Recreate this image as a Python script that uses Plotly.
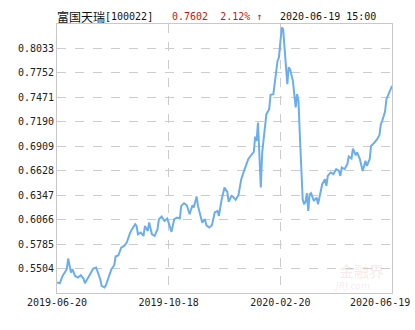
import plotly.graph_objects as go

# trading-day index and net value
days = [0, 2, 4, 5, 7, 8, 9, 10, 11, 13, 15, 17, 19, 20, 23, 26, 28, 29, 31, 32, 34, 35, 37, 39,
        41, 42, 44, 46, 48, 50, 52, 53, 56, 57, 58, 60, 62, 63, 65, 66, 68, 70, 72, 73, 75, 77,
        79, 81, 82, 84, 86, 88, 89, 91, 93, 95, 97, 98, 100, 101, 104, 106, 107, 109, 111, 113,
        115, 116, 118, 120, 122, 123, 125, 126, 128, 130, 131, 132, 134, 135, 137, 139, 141, 142,
        143, 144, 145, 146, 147, 149, 150, 152, 153, 155, 157, 158, 159, 160, 161, 162, 164, 165,
        166, 167, 169, 170, 171, 172, 173, 174, 175, 176, 177, 178, 179, 180, 181, 182, 184, 186,
        187, 188, 190, 192, 193, 194, 196, 198, 200, 202, 203, 204, 206, 208, 209, 211, 212, 214,
        215, 217, 219, 221, 222, 224, 225, 227, 229, 231, 232, 233, 235, 236, 237, 240]
values = [0.5343, 0.5335, 0.5419, 0.5450, 0.5496, 0.5619, 0.5554, 0.5458, 0.5496, 0.5419, 0.5401,
          0.5427, 0.5389, 0.5335, 0.5419, 0.5504, 0.5516, 0.5477, 0.5381, 0.5304, 0.5286, 0.5312,
          0.5419, 0.5496, 0.5542, 0.5642, 0.5657, 0.5745, 0.5764, 0.5803, 0.5898, 0.5936, 0.6013,
          0.5994, 0.5898, 0.5918, 0.5879, 0.5994, 0.5936, 0.6033, 0.5898, 0.5879, 0.5956, 0.6071,
          0.6102, 0.6051, 0.6079, 0.5975, 0.5925, 0.6071, 0.6090, 0.6079, 0.6224, 0.6255, 0.6231,
          0.6128, 0.6231, 0.6205, 0.6332, 0.6224, 0.6033, 0.6071, 0.6002, 0.5975, 0.6002, 0.6148,
          0.6166, 0.6109, 0.6301, 0.6435, 0.6385, 0.6270, 0.6339, 0.6332, 0.6293, 0.6347, 0.6462,
          0.6531, 0.6626, 0.6665, 0.6760, 0.6806, 0.6844, 0.7021, 0.6971, 0.7182, 0.6875, 0.6435,
          0.6838, 0.7143, 0.7278, 0.7335, 0.7500, 0.7508, 0.7795, 0.7890, 0.7930, 0.8140, 0.8274,
          0.8255, 0.7795, 0.7623, 0.7815, 0.7795, 0.7661, 0.7534, 0.7355, 0.7508, 0.7431, 0.7028,
          0.6608, 0.6301, 0.6243, 0.6270, 0.6370, 0.6166, 0.6358, 0.6370, 0.6281, 0.6320, 0.6243,
          0.6320, 0.6473, 0.6531, 0.6454, 0.6569, 0.6608, 0.6588, 0.6646, 0.6626, 0.6569, 0.6665,
          0.6646, 0.6703, 0.6792, 0.6769, 0.6883, 0.6806, 0.6838, 0.6760, 0.6626, 0.6741, 0.6683,
          0.6760, 0.6913, 0.6944, 0.6982, 0.7036, 0.7163, 0.7201, 0.7304, 0.7450, 0.7488, 0.7602]

x_tick_pos = [0, 80, 160, 240]
x_tick_labels = ["2019-06-20", "2019-10-18", "2020-02-20", "2020-06-19"]
y_ticks = [0.5504, 0.5785, 0.6066, 0.6347, 0.6628, 0.6909, 0.7190, 0.7471, 0.7752, 0.8033]
y_tick_labels = ["%.4f" % v for v in y_ticks]

fund_name = "富国天瑞"
fund_code = "[100022]"
last_info = "0.7602  2.12% ↑"
time_info = "2020-06-19 15:00"

mono = "DejaVu Sans Mono, Liberation Mono, monospace"
cjk = "Noto Sans CJK SC"

fig = go.Figure()
fig.add_trace(go.Scatter(x=days, y=values, mode="lines",
                         line=dict(color="#6aaef0", width=2), hoverinfo="skip"))

ML, MR, MT, MB = 57, 23, 24, 37

fig.update_layout(
    width=415, height=330,
    margin=dict(l=ML, r=MR, t=MT, b=MB),
    paper_bgcolor="white", plot_bgcolor="white",
    showlegend=False,
    xaxis=dict(range=[0, 240], tickvals=x_tick_pos[:-1], ticktext=x_tick_labels[:-1],
               showgrid=True, gridcolor="#cccccc", griddash="dash", gridwidth=1,
               showline=True, linecolor="#c8c8c8", linewidth=1, mirror=True,
               ticks="", zeroline=False,
               tickfont=dict(family=mono, size=10, color="#222222")),
    yaxis=dict(range=[0.5223, 0.8314], tickvals=y_ticks, ticktext=y_tick_labels,
               showgrid=True, gridcolor="#cccccc", griddash="dash", gridwidth=1,
               showline=True, linecolor="#c8c8c8", linewidth=1, mirror=True,
               ticks="", zeroline=False,
               tickfont=dict(family=mono, size=10, color="#222222")),
)

# last x label, pushed inside the page like the original
fig.add_annotation(text=x_tick_labels[-1], xref="x", yref="paper", x=x_tick_pos[-1], y=0,
                   xanchor="right", yanchor="top", xshift=20, yshift=-2,
                   showarrow=False, font=dict(family=mono, size=10, color="#222222"))

def top_text(text, px, family, size, color):
    fig.add_annotation(text=text, xref="paper", yref="paper", x=0, y=1,
                       xanchor="left", yanchor="middle", xshift=px - ML, yshift=MT - 16,
                       showarrow=False, font=dict(family=family, size=size, color=color))

top_text(fund_name, 55, cjk, 12, "#111111")
top_text(fund_code, 103, mono, 10, "#111111")
top_text(last_info, 170, mono, 10, "#cc1111")
top_text(time_info, 278, mono, 10, "#111111")

# faint watermark
fig.add_annotation(text="金融界", xref="paper", yref="paper", x=1, y=0,
                   xanchor="right", yanchor="bottom", xshift=-6, yshift=10,
                   showarrow=False, font=dict(family=cjk, size=15, color="rgba(220,120,120,0.18)"))
fig.add_annotation(text="<i>JRJ.com</i>", xref="paper", yref="paper", x=1, y=0,
                   xanchor="right", yanchor="bottom", xshift=-20, yshift=0,
                   showarrow=False, font=dict(family="DejaVu Sans", size=9, color="rgba(220,120,120,0.18)"))

fig.write_html("out.html")
